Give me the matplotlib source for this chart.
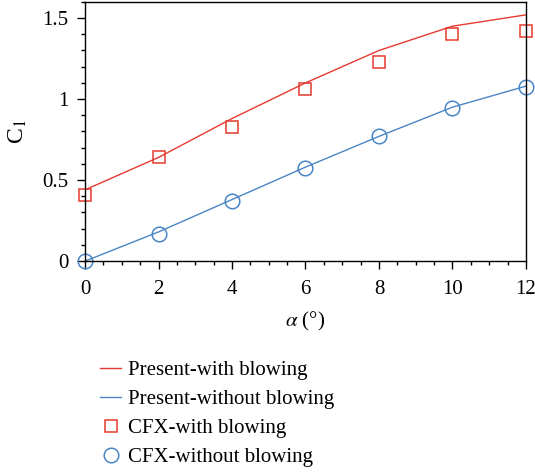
import numpy as np
import matplotlib.pyplot as plt
from matplotlib.ticker import MultipleLocator

plt.rcParams['font.family'] = ['Liberation Serif', 'DejaVu Serif']
plt.rcParams['mathtext.fontset'] = 'stix'

# angle of attack
alpha = [0, 2, 4, 6, 8, 10, 12]
# present method
cl_blow = [0.44, 0.64, 0.88, 1.10, 1.30, 1.45, 1.52]
cl_noblow = [0.0, 0.18, 0.38, 0.58, 0.77, 0.95, 1.08]
# CFX results
cfx_blow = [0.41, 0.64, 0.83, 1.06, 1.23, 1.40, 1.42]
cfx_noblow = [0.0, 0.165, 0.37, 0.575, 0.77, 0.945, 1.075]

rojo = '#e53a2f'
azul = '#4a86c5'

fig = plt.figure(figsize=(5.35, 4.73), dpi=100)
ax = fig.add_axes([0.159, 0.448, 0.824, 0.548])

l1, = ax.plot(alpha, cl_blow, color=rojo, lw=1.0, label='Present-with blowing')
l2, = ax.plot(alpha, cl_noblow, color=azul, lw=1.0, label='Present-without blowing')
m1, = ax.plot(alpha, cfx_blow, ls='none', marker='s', ms=8, mfc='none', mec=rojo,
              mew=1.1, label='CFX-with blowing', clip_on=False)
m2, = ax.plot(alpha, cfx_noblow, ls='none', marker='o', ms=10.5, mfc='none', mec=azul,
              mew=1.1, label='CFX-without blowing', clip_on=False)

ax.set_xlim(0, 12)
ax.set_ylim(0, 1.6)
ax.set_xticks([0, 2, 4, 6, 8, 10, 12])
ax.set_yticks([0, 0.5, 1, 1.5])
ax.set_yticklabels(['0', '0.5', '1', '1.5'])
ax.xaxis.set_minor_locator(MultipleLocator(0.5))
ax.yaxis.set_minor_locator(MultipleLocator(0.1))
ax.tick_params(which='major', direction='out', length=5.8, width=1, labelsize=15)
ax.tick_params(axis='x', which='major', pad=8)
ax.tick_params(axis='y', which='major', pad=6)
ax.tick_params(which='minor', direction='out', length=3.2, width=1)
for s in ax.spines.values():
    s.set_linewidth(1.0)

ax.set_xlabel(r'$\alpha$ (°)', fontsize=15, labelpad=8)
ax.set_ylabel(r'C$_1$', fontsize=17, labelpad=10)

fig.legend(handles=[l1, l2, m1, m2], loc='upper left', bbox_to_anchor=(0.172, 0.255),
           frameon=False, fontsize=15, handlelength=1.0, handletextpad=0.35,
           labelspacing=0.45, borderaxespad=0)

fig.savefig('out.png', dpi=100)
